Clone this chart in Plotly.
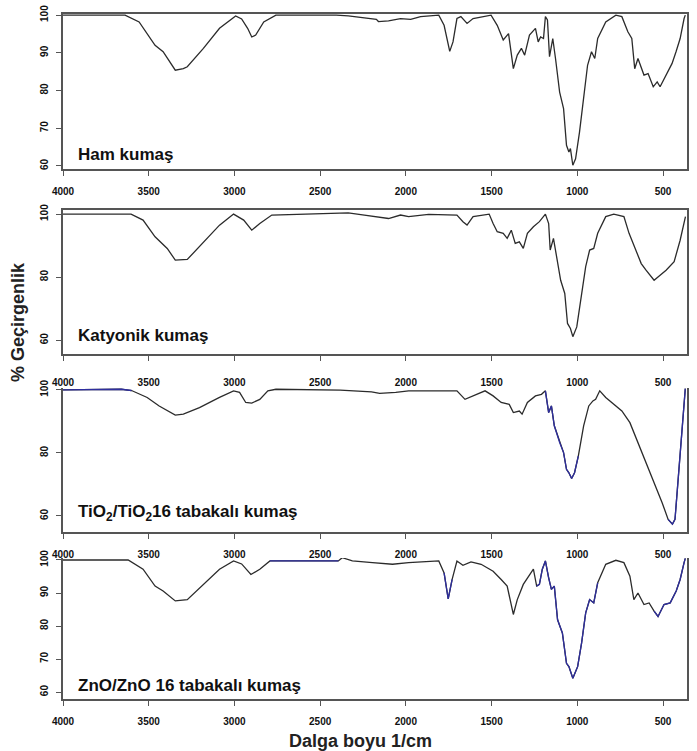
import plotly.graph_objects as go

# ---------------- data (wavenumber 1/cm, % transmittance) ----------------
ham = [(4000, 100), (3638, 100), (3556, 98.2), (3463, 92), (3416, 90.3), (3345, 85.4),
       (3298, 85.8), (3275, 86.3), (3181, 91.2), (3087, 96.5), (2993, 99.8), (2958, 99),
       (2923, 96.5), (2899, 94.2), (2876, 94.7), (2829, 98.2), (2758, 100), (2406, 100),
       (2336, 99.8), (2242, 99.3), (2172, 98.9), (2160, 98.3), (2101, 98.5), (2031, 99.1),
       (1972, 98.9), (1914, 99.6), (1808, 100), (1777, 97.3), (1760, 93.8), (1744, 90.4),
       (1725, 92.9), (1702, 99.1), (1679, 99.6), (1643, 97.8), (1608, 99.1), (1503, 100),
       (1467, 97.3), (1432, 93.4), (1401, 95.1), (1373, 85.8), (1350, 89.4), (1326, 91.2),
       (1307, 89.4), (1279, 94.7), (1244, 96.5), (1228, 92.9), (1214, 94.2), (1197, 93.8),
       (1186, 99.6), (1174, 98.7), (1162, 89), (1143, 93.8), (1127, 88.5), (1103, 79.6),
       (1080, 75.2), (1063, 65.5), (1049, 63.7), (1040, 64.6), (1026, 60.2), (1010, 61.9),
       (987, 69), (963, 78.8), (940, 86.7), (917, 90.3), (898, 88.5), (881, 93.8),
       (834, 98.2), (775, 100), (740, 99.6), (705, 95.6), (682, 93.8), (665, 85.8),
       (646, 88.5), (611, 84.1), (587, 84.5), (557, 81), (534, 82.3), (517, 81),
       (482, 84.1), (447, 87.2), (424, 90.3), (400, 93.8), (377, 99.1), (370, 100)]

katyonik = [(4000, 100), (3603, 100), (3533, 98.1), (3463, 92.8), (3392, 89.1), (3345, 85.4),
            (3275, 85.6), (3181, 91.2), (3087, 96.5), (3005, 100), (2946, 98.1), (2899, 94.9),
            (2852, 97), (2782, 99.7), (2383, 100.2), (2336, 100.4), (2242, 99.7), (2101, 98.6),
            (2031, 99.7), (1984, 99.2), (1867, 99.9), (1702, 99.7), (1667, 97.6), (1643, 96.5),
            (1608, 99.2), (1514, 100), (1491, 97), (1467, 94.4), (1432, 93.9), (1409, 92.3),
            (1385, 94.9), (1362, 90.7), (1338, 91.2), (1315, 89.1), (1291, 93.9), (1256, 96),
            (1221, 97.6), (1186, 100), (1167, 97), (1158, 88.6), (1139, 92.3), (1120, 86.5),
            (1097, 79), (1073, 74.8), (1057, 65.3), (1040, 63.7), (1026, 61.1), (1003, 64.2),
            (979, 72.7), (951, 83.3), (928, 88.6), (904, 89.1), (881, 93.9), (834, 99.2),
            (787, 100), (728, 99.2), (698, 93.9), (674, 90.7), (651, 87.5), (627, 84.3),
            (599, 82.2), (552, 79), (517, 80.6), (482, 82.2), (435, 84.9), (400, 91.7),
            (369, 99.2)]

tio2 = [(4000, 100), (3660, 100.2), (3600, 99.8), (3509, 97.6), (3439, 94.9), (3345, 92),
        (3298, 92.3), (3204, 94.4), (3087, 97.6), (3005, 99.7), (2970, 99.2), (2934, 96),
        (2899, 95.8), (2852, 97), (2805, 99.7), (2758, 100.2), (2383, 99.9), (2200, 99.4),
        (2153, 98.9), (2059, 99.2), (1984, 99.7), (1702, 99.7), (1655, 97), (1608, 98.1),
        (1538, 99.7), (1491, 98.1), (1444, 96), (1397, 95.4), (1373, 92.8), (1338, 93.3),
        (1322, 92.3), (1291, 96), (1244, 98.1), (1209, 98.6), (1186, 99.7), (1167, 92.8),
        (1151, 94.9), (1134, 88.6), (1103, 83.3), (1080, 80.1), (1063, 74.8), (1049, 73.7),
        (1033, 71.9), (1016, 73.7), (994, 79), (963, 88.6), (933, 94.9), (909, 96.5),
        (893, 97), (869, 99.7), (834, 97.6), (787, 95.4), (740, 93.3), (693, 89.6),
        (646, 83.3), (599, 76.9), (552, 70.6), (505, 64.2), (470, 58.9), (445, 57.4),
        (430, 58.9), (411, 71.6), (388, 89.6), (374, 99.2), (370, 100.4)]

zno = [(4000, 100), (3620, 100), (3533, 97.2), (3463, 92.1), (3416, 90.6), (3345, 87.6),
       (3275, 88), (3181, 92.6), (3087, 97.2), (3005, 99.7), (2958, 98.8), (2904, 95.6),
       (2852, 97.2), (2793, 99.7), (2394, 99.7), (2371, 100.7), (2312, 99.7), (2195, 99.2),
       (2078, 98.7), (1984, 99.2), (1914, 99.4), (1808, 99.7), (1777, 96.1), (1753, 88.2),
       (1730, 94.1), (1702, 99.7), (1667, 98.4), (1620, 99.4), (1561, 98.7), (1491, 96.6),
       (1444, 94.1), (1409, 92.1), (1373, 83.5), (1350, 88), (1315, 92.6), (1279, 95.6),
       (1256, 97.2), (1237, 92.1), (1221, 92.6), (1204, 97.2), (1186, 99.7), (1167, 94.6),
       (1151, 91.1), (1134, 92.1), (1115, 81.9), (1087, 77.9), (1063, 68.7), (1049, 67.7),
       (1026, 64.2), (998, 67.7), (975, 74.8), (951, 84), (928, 88), (904, 87),
       (881, 93.1), (834, 98.7), (775, 99.9), (728, 99.2), (693, 95.1), (670, 88),
       (646, 90), (611, 86.5), (581, 87), (552, 84.5), (529, 82.9), (494, 86.5),
       (458, 87), (423, 90.6), (400, 94.1), (377, 99.2), (370, 100.5)]

labels = ["Ham kumaş", "Katyonik kumaş",
          "TiO<sub>2</sub>/TiO<sub>2</sub>16 tabakalı kumaş",
          "ZnO/ZnO 16 tabakalı kumaş"]

x_ticks = [4000, 3500, 3000, 2500, 2000, 1500, 1000, 500]
y_ticks = [[100, 90, 80, 70, 60], [100, 80, 60], [100, 80, 60], [100, 90, 80, 70, 60]]

# blue-tinted portions of the scanned lines (wavenumber ranges)
blue_ranges = [[], [],
               [(4000, 3560), (2760, 2400), (1190, 990), (480, 370)],
               [(4000, 3630), (2800, 2390), (1790, 1725), (1250, 860), (560, 370)]]

# ---------------- layout geometry ----------------
W, H = 697, 751
X0, X1 = 63, 687
boxes = [(14, 169), (210, 354), (388, 532), (558, 699)]        # top, bottom px
y_ranges = [(59.2, 100.3), (55.6, 101.3), (54.9, 100.6), (57.9, 100.6)]
full_box = [True, True, False, False]
standoff = [7, 13, 7, 7]
label_y = [155, 335, 513, 685]

series = [ham, katyonik, tio2, zno]

fig = go.Figure()
tickfont = dict(family="Arial", size=10, color="#111", weight="bold")

for i, data in enumerate(series):
    wn = [p[0] for p in data]
    tr = [p[1] for p in data]
    ax = "" if i == 0 else str(i + 1)
    fig.add_trace(go.Scatter(x=wn, y=tr, mode="lines", xaxis="x" + ax, yaxis="y" + ax,
                             line=dict(color="#2b2b2b", width=1.3), showlegend=False,
                             hoverinfo="skip"))
    for (hi, lo) in blue_ranges[i]:
        sx = [w for w in wn if lo <= w <= hi]
        sy = [t for w, t in zip(wn, tr) if lo <= w <= hi]
        fig.add_trace(go.Scatter(x=sx, y=sy, mode="lines", xaxis="x" + ax, yaxis="y" + ax,
                                 line=dict(color="#2e2e9e", width=1.3), showlegend=False,
                                 hoverinfo="skip"))
    top, bot = boxes[i]
    dom_y = [1 - bot / H, 1 - top / H]
    xkey = "xaxis" + ax
    ykey = "yaxis" + ax
    fig.layout[xkey] = dict(domain=[X0 / W, X1 / W], range=[4000, 360],
                            anchor="y" + ax, tickmode="array", tickvals=x_ticks,
                            ticktext=[str(v) for v in x_ticks], ticks="outside",
                            ticklen=5, tickwidth=1.2, tickcolor="#555",
                            showline=True, linecolor="#555", linewidth=1.5,
                            mirror=full_box[i], showgrid=False, zeroline=False,
                            automargin=False,
                            tickfont=tickfont, ticklabelstandoff=standoff[i])
    fig.layout[ykey] = dict(domain=dom_y, range=list(y_ranges[i]), anchor="x" + ax,
                            tickmode="array", tickvals=y_ticks[i],
                            ticktext=[str(v) for v in y_ticks[i]], ticks="outside",
                            ticklen=5, tickwidth=1.2, tickcolor="#555",
                            showline=True, linecolor="#555", linewidth=1.5,
                            mirror=True, showgrid=False, zeroline=False,
                            automargin=False,
                            tickangle=-90, tickfont=tickfont, ticklabelstandoff=4)
    fig.add_annotation(text=labels[i], xref="paper", yref="paper",
                       x=76 / W, y=1 - label_y[i] / H, xanchor="left", yanchor="middle",
                       showarrow=False,
                       font=dict(family="Arial", size=17, color="#111", weight="bold"))

fig.add_annotation(text="% Geçirgenlik", xref="paper", yref="paper", x=18 / W,
                   y=1 - 322 / H, textangle=-90, showarrow=False,
                   xanchor="center", yanchor="middle",
                   font=dict(family="Arial", size=18, color="#222", weight="bold"))
fig.add_annotation(text="Dalga boyu 1/cm", xref="paper", yref="paper", x=360 / W,
                   y=1 - 741 / H, showarrow=False, xanchor="center", yanchor="middle",
                   font=dict(family="Arial", size=18, color="#222", weight="bold"))

fig.update_layout(width=W, height=H, margin=dict(l=0, r=0, t=0, b=0, autoexpand=False),
                  paper_bgcolor="white", plot_bgcolor="white")

fig.write_html("out.html", config={"displayModeBar": False},
               post_script="document.body.style.margin='0';"
                           "document.body.style.padding='0';"
                           "document.body.style.overflow='hidden';")
